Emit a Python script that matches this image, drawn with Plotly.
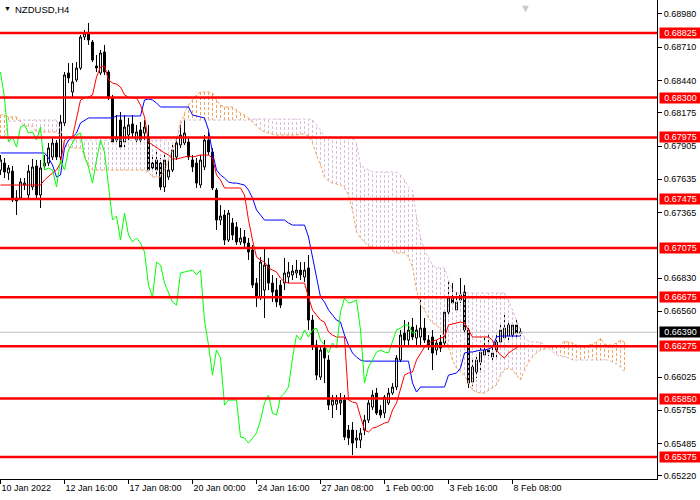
import plotly.graph_objects as go

symbol_title = "NZDUSD,H4"
tick_bars = [0, 16, 32, 48, 64, 80, 96, 112, 128]
tick_labels = ["10 Jan 2022", "12 Jan 16:00", "17 Jan 08:00", "20 Jan 00:00", "24 Jan 16:00",
               "27 Jan 08:00", "1 Feb 00:00", "3 Feb 16:00", "8 Feb 08:00"]
price_ticks = [0.68980, 0.68710, 0.68440, 0.68175, 0.67905, 0.67635, 0.67365, 0.66830,
               0.66560, 0.66025, 0.65755, 0.65485, 0.65220]
levels = [0.68825, 0.68300, 0.67975, 0.67475, 0.67075, 0.66675, 0.66275, 0.65850, 0.65375]
current_price = 0.66390

opens = [0.67710, 0.67767, 0.67686, 0.67702, 0.67482, 0.67482, 0.67588, 0.67507, 0.67572, 0.67743,
         0.67507, 0.67743, 0.67767, 0.67816, 0.67930, 0.67816, 0.68093, 0.68500, 0.68345, 0.68443,
         0.68540, 0.68793, 0.68825, 0.68752, 0.68557, 0.68500, 0.68671, 0.68508, 0.68296, 0.67954,
         0.68117, 0.67938, 0.67995, 0.68085, 0.67954, 0.68036, 0.68011, 0.67979, 0.67767, 0.67792,
         0.67767, 0.67572, 0.67653, 0.67710, 0.67816, 0.67914, 0.67930, 0.67938, 0.67792, 0.67767,
         0.67588, 0.67735, 0.67954, 0.67857, 0.67547, 0.67303, 0.67344, 0.67140, 0.67279, 0.67246,
         0.67124, 0.67165, 0.67116, 0.67059, 0.66790, 0.66676, 0.66733, 0.66937, 0.66790, 0.66733,
         0.66774, 0.66790, 0.66839, 0.66856, 0.66872, 0.66896, 0.66839, 0.66913, 0.66489, 0.66286,
         0.66025, 0.66261, 0.66164, 0.65797, 0.65805, 0.65814, 0.65838, 0.65594, 0.65594, 0.65512,
         0.65512, 0.65594, 0.65675, 0.65781, 0.65895, 0.65757, 0.65732, 0.65814, 0.65895, 0.65944,
         0.66164, 0.66383, 0.66326, 0.66432, 0.66343, 0.66351, 0.66424, 0.66326, 0.66351, 0.66245,
         0.66310, 0.66302, 0.66554, 0.66668, 0.66571, 0.66693, 0.66717, 0.66408, 0.65984, 0.66066,
         0.66147, 0.66204, 0.66245, 0.66188, 0.66245, 0.66310, 0.66343, 0.66359, 0.66367, 0.66449,
         0.66383]
highs = [0.67832, 0.67808, 0.67751, 0.67743, 0.67547, 0.67645, 0.67645, 0.67751, 0.67800, 0.67792,
         0.67792, 0.67832, 0.67930, 0.67971, 0.67954, 0.68158, 0.68508, 0.68581, 0.68581, 0.68589,
         0.68809, 0.68850, 0.68907, 0.68768, 0.68646, 0.68687, 0.68728, 0.68524, 0.68321, 0.68158,
         0.68182, 0.68158, 0.68134, 0.68158, 0.68077, 0.68101, 0.68117, 0.68077, 0.67832, 0.67873,
         0.67808, 0.67832, 0.67792, 0.67914, 0.67971, 0.68077, 0.68117, 0.67971, 0.67832, 0.67808,
         0.67832, 0.67995, 0.68020, 0.67889, 0.67564, 0.67425, 0.67385, 0.67385, 0.67320, 0.67287,
         0.67238, 0.67222, 0.67157, 0.67100, 0.66831, 0.67002, 0.67083, 0.66994, 0.66856, 0.66831,
         0.66815, 0.66994, 0.66961, 0.66937, 0.66978, 0.66961, 0.66961, 0.67018, 0.66530, 0.66326,
         0.66286, 0.66326, 0.66204, 0.65879, 0.65879, 0.65895, 0.65879, 0.65635, 0.65659, 0.65594,
         0.65610, 0.65716, 0.65838, 0.65919, 0.65936, 0.65797, 0.65879, 0.65936, 0.65976, 0.66204,
         0.66408, 0.66489, 0.66473, 0.66506, 0.66449, 0.66652, 0.66506, 0.66367, 0.66408, 0.66326,
         0.66367, 0.66571, 0.66815, 0.66790, 0.66717, 0.66831, 0.66774, 0.66449, 0.66164, 0.66204,
         0.66261, 0.66367, 0.66367, 0.66286, 0.66383, 0.66465, 0.66530, 0.66489, 0.66473, 0.66489,
         0.66424]
lows = [0.67670, 0.67645, 0.67629, 0.67450, 0.67344, 0.67466, 0.67547, 0.67482, 0.67547, 0.67482,
        0.67401, 0.67710, 0.67743, 0.67792, 0.67792, 0.67792, 0.68068, 0.68418, 0.68304, 0.68427,
        0.68524, 0.68768, 0.68728, 0.68589, 0.68508, 0.68484, 0.68484, 0.68280, 0.67914, 0.67914,
        0.67873, 0.67889, 0.67954, 0.67971, 0.67914, 0.67914, 0.67954, 0.67694, 0.67694, 0.67670,
        0.67547, 0.67531, 0.67629, 0.67694, 0.67792, 0.67889, 0.67914, 0.67792, 0.67694, 0.67564,
        0.67564, 0.67710, 0.67832, 0.67547, 0.67222, 0.67262, 0.67100, 0.67124, 0.67140, 0.67100,
        0.67100, 0.67075, 0.66978, 0.66750, 0.66595, 0.66652, 0.66506, 0.66733, 0.66636, 0.66595,
        0.66587, 0.66733, 0.66790, 0.66815, 0.66831, 0.66815, 0.66799, 0.66408, 0.66245, 0.66001,
        0.66001, 0.65976, 0.65757, 0.65692, 0.65757, 0.65716, 0.65512, 0.65472, 0.65390, 0.65447,
        0.65447, 0.65553, 0.65651, 0.65757, 0.65716, 0.65692, 0.65692, 0.65797, 0.65879, 0.65919,
        0.66147, 0.66286, 0.66286, 0.66326, 0.66286, 0.66286, 0.66302, 0.66245, 0.66082, 0.66204,
        0.66229, 0.66286, 0.66530, 0.66611, 0.66546, 0.66628, 0.66367, 0.65936, 0.65952, 0.66017,
        0.66066, 0.66180, 0.66196, 0.66164, 0.66180, 0.66286, 0.66326, 0.66310, 0.66326, 0.66343,
        0.66359]
closes = [0.67792, 0.67694, 0.67727, 0.67466, 0.67458, 0.67613, 0.67604, 0.67702, 0.67735, 0.67507,
          0.67727, 0.67767, 0.67889, 0.67930, 0.67816, 0.68101, 0.68484, 0.68459, 0.68427, 0.68540,
          0.68793, 0.68825, 0.68768, 0.68606, 0.68540, 0.68663, 0.68508, 0.68296, 0.67938, 0.67979,
          0.67897, 0.68060, 0.68077, 0.68011, 0.68020, 0.67954, 0.68060, 0.67710, 0.67727, 0.67710,
          0.67572, 0.67792, 0.67710, 0.67873, 0.67930, 0.67995, 0.68011, 0.67816, 0.67735, 0.67604,
          0.67792, 0.67954, 0.67857, 0.67564, 0.67303, 0.67336, 0.67140, 0.67360, 0.67181, 0.67124,
          0.67157, 0.67116, 0.67043, 0.66774, 0.66676, 0.66961, 0.66937, 0.66790, 0.66717, 0.66636,
          0.66611, 0.66872, 0.66880, 0.66888, 0.66896, 0.66856, 0.66896, 0.66489, 0.66286, 0.66041,
          0.66245, 0.66180, 0.65797, 0.65838, 0.65838, 0.65838, 0.65537, 0.65529, 0.65488, 0.65529,
          0.65569, 0.65675, 0.65814, 0.65879, 0.65732, 0.65716, 0.65862, 0.65895, 0.65944, 0.66180,
          0.66367, 0.66326, 0.66408, 0.66351, 0.66408, 0.66424, 0.66326, 0.66286, 0.66221, 0.66302,
          0.66261, 0.66554, 0.66668, 0.66628, 0.66636, 0.66652, 0.66408, 0.65976, 0.66107, 0.66164,
          0.66229, 0.66245, 0.66229, 0.66221, 0.66310, 0.66408, 0.66424, 0.66449, 0.66449, 0.66383,
          0.66390]

tenkan = [0.67588, 0.67588, 0.67588, 0.67588, 0.67588, 0.67588, 0.67588, 0.67588, 0.67588, 0.67588,
          0.67588, 0.67629, 0.67661, 0.67686, 0.67710, 0.67767, 0.67954, 0.67979, 0.67979, 0.68117,
          0.68280, 0.68296, 0.68304, 0.68321, 0.68467, 0.68549, 0.68557, 0.68443, 0.68418, 0.68410,
          0.68386, 0.68321, 0.68304, 0.68296, 0.68296, 0.68239, 0.68142, 0.67938, 0.67914, 0.67897,
          0.67873, 0.67849, 0.67832, 0.67800, 0.67800, 0.67808, 0.67816, 0.67824, 0.67816, 0.67824,
          0.67832, 0.67832, 0.67832, 0.67808, 0.67670, 0.67629, 0.67564, 0.67564, 0.67564, 0.67564,
          0.67564, 0.67507, 0.67303, 0.67140, 0.67002, 0.66978, 0.66961, 0.66913, 0.66896, 0.66880,
          0.66831, 0.66799, 0.66790, 0.66790, 0.66790, 0.66790, 0.66790, 0.66676, 0.66571, 0.66530,
          0.66489, 0.66473, 0.66392, 0.66367, 0.66351, 0.66351, 0.66351, 0.65838, 0.65822, 0.65814,
          0.65700, 0.65594, 0.65578, 0.65610, 0.65618, 0.65635, 0.65651, 0.65659, 0.65757, 0.65814,
          0.65919, 0.66041, 0.66058, 0.66066, 0.66164, 0.66221, 0.66269, 0.66302, 0.66318, 0.66326,
          0.66343, 0.66351, 0.66449, 0.66457, 0.66465, 0.66473, 0.66465, 0.66408, 0.66351, 0.66351,
          0.66351, 0.66351, 0.66351, 0.66326, 0.66245, 0.66204, 0.66180, 0.66221, 0.66245, 0.66269,
          0.66286]
kijun = [0.67849, 0.67849, 0.67849, 0.67849, 0.67849, 0.67849, 0.67849, 0.67849, 0.67849, 0.67849,
         0.67849, 0.67849, 0.67808, 0.67751, 0.67653, 0.67670, 0.67889, 0.67954, 0.67979, 0.68011,
         0.68093, 0.68117, 0.68134, 0.68134, 0.68134, 0.68134, 0.68134, 0.68134, 0.68134, 0.68150,
         0.68150, 0.68150, 0.68150, 0.68150, 0.68150, 0.68150, 0.68280, 0.68288, 0.68280, 0.68256,
         0.68223, 0.68223, 0.68223, 0.68223, 0.68223, 0.68223, 0.68223, 0.68223, 0.68158, 0.68150,
         0.68142, 0.68134, 0.68036, 0.67849, 0.67710, 0.67670, 0.67645, 0.67613, 0.67604, 0.67604,
         0.67596, 0.67588, 0.67547, 0.67482, 0.67385, 0.67344, 0.67303, 0.67303, 0.67303, 0.67303,
         0.67303, 0.67303, 0.67279, 0.67262, 0.67262, 0.67262, 0.67262, 0.67165, 0.67002, 0.66815,
         0.66676, 0.66636, 0.66571, 0.66530, 0.66489, 0.66473, 0.66367, 0.66286, 0.66221, 0.66188,
         0.66164, 0.66155, 0.66155, 0.66155, 0.66155, 0.66155, 0.66155, 0.66155, 0.66155, 0.66155,
         0.66155, 0.66155, 0.66155, 0.65976, 0.65903, 0.65944, 0.65944, 0.65944, 0.65944, 0.65944,
         0.65944, 0.65944, 0.66041, 0.66050, 0.66058, 0.66099, 0.66221, 0.66229, 0.66229, 0.66237,
         0.66245, 0.66245, 0.66253, 0.66269, 0.66351, 0.66359, 0.66359, 0.66359, 0.66359, 0.66359,
         0.66359]
senkou_a = [0.68158, 0.68158, 0.68142, 0.68142, 0.68142, 0.68101, 0.68068, 0.68068, 0.68068, 0.68020,
            0.68020, 0.68020, 0.68020, 0.68020, 0.68020, 0.67995, 0.67906, 0.67897, 0.67889, 0.67889,
            0.67889, 0.67832, 0.67751, 0.67710, 0.67710, 0.67710, 0.67710, 0.67710, 0.67710, 0.67710,
            0.67710, 0.67710, 0.67710, 0.67710, 0.67710, 0.67710, 0.67710, 0.67694, 0.67653, 0.67653,
            0.67653, 0.67710, 0.67792, 0.67873, 0.67954, 0.68077, 0.68174, 0.68239, 0.68280, 0.68321,
            0.68345, 0.68345, 0.68345, 0.68337, 0.68280, 0.68239, 0.68223, 0.68223, 0.68223, 0.68199,
            0.68174, 0.68158, 0.68134, 0.68101, 0.68068, 0.68036, 0.68020, 0.68011, 0.68003, 0.67995,
            0.67995, 0.67995, 0.67995, 0.67995, 0.67995, 0.68003, 0.68003, 0.67987, 0.67930, 0.67832,
            0.67751, 0.67653, 0.67621, 0.67604, 0.67596, 0.67588, 0.67564, 0.67507, 0.67385, 0.67206,
            0.67157, 0.67124, 0.67092, 0.67083, 0.67075, 0.67075, 0.67075, 0.67075, 0.67051, 0.67035,
            0.67035, 0.67035, 0.67002, 0.66921, 0.66733, 0.66611, 0.66571, 0.66506, 0.66465, 0.66449,
            0.66408, 0.66351, 0.66269, 0.66164, 0.66099, 0.66066, 0.66041, 0.65976, 0.65919, 0.65903,
            0.65895, 0.65895, 0.65919, 0.65936, 0.65960, 0.66041, 0.66082, 0.66099, 0.66082, 0.66041,
            0.66001, 0.66082, 0.66147, 0.66188, 0.66221, 0.66245, 0.66253, 0.66261, 0.66269, 0.66278,
            0.66286, 0.66318, 0.66310, 0.66302, 0.66286, 0.66269, 0.66278, 0.66286, 0.66294, 0.66310,
            0.66343, 0.66294, 0.66286, 0.66286, 0.66302, 0.66326, 0.66310]
senkou_b = [0.67979, 0.67979, 0.68109, 0.68109, 0.68109, 0.68117, 0.68117, 0.68117, 0.68117, 0.68117,
            0.68117, 0.68117, 0.68117, 0.68117, 0.68117, 0.68036, 0.67954, 0.67954, 0.67954, 0.67954,
            0.67954, 0.67954, 0.67954, 0.67954, 0.67954, 0.67954, 0.67954, 0.67954, 0.67954, 0.67954,
            0.67954, 0.67954, 0.67954, 0.67954, 0.67954, 0.67954, 0.67954, 0.67954, 0.67954, 0.67954,
            0.67954, 0.67954, 0.67954, 0.67954, 0.67954, 0.68117, 0.68117, 0.68117, 0.68117, 0.68117,
            0.68117, 0.68117, 0.68117, 0.68117, 0.68117, 0.68117, 0.68117, 0.68117, 0.68117, 0.68117,
            0.68117, 0.68117, 0.68117, 0.68125, 0.68125, 0.68125, 0.68125, 0.68125, 0.68125, 0.68125,
            0.68125, 0.68125, 0.68125, 0.68125, 0.68125, 0.68125, 0.68125, 0.68125, 0.68117, 0.68077,
            0.68036, 0.67979, 0.67979, 0.67979, 0.67979, 0.67979, 0.67979, 0.67979, 0.67979, 0.67930,
            0.67751, 0.67727, 0.67710, 0.67694, 0.67694, 0.67694, 0.67694, 0.67694, 0.67694, 0.67694,
            0.67670, 0.67629, 0.67572, 0.67547, 0.67328, 0.67165, 0.67059, 0.66994, 0.66937, 0.66913,
            0.66913, 0.66913, 0.66815, 0.66733, 0.66709, 0.66709, 0.66709, 0.66709, 0.66709, 0.66709,
            0.66709, 0.66709, 0.66709, 0.66709, 0.66709, 0.66709, 0.66709, 0.66652, 0.66571, 0.66489,
            0.66408, 0.66351, 0.66318, 0.66310, 0.66310, 0.66310, 0.66286, 0.66261, 0.66229, 0.66204,
            0.66196, 0.66188, 0.66180, 0.66164, 0.66164, 0.66164, 0.66164, 0.66164, 0.66164, 0.66164,
            0.66164, 0.66164, 0.66164, 0.66147, 0.66131, 0.66107, 0.66066]

# Chikou span = closes displayed 26 bars back
chikou = closes[26:]

FONT = "Liberation Sans"
SANDY = "#F4A460"
THISTLE = "#D8BFD8"

bars = list(range(len(closes)))
cloud_bars = list(range(len(senkou_a)))

hx_up, hy_up, hx_dn, hy_dn = [], [], [], []
for i, (a, b) in zip(cloud_bars, zip(senkou_a, senkou_b)):
    if a >= b:
        hx_up += [i, i, None]
        hy_up += [a, b, None]
    else:
        hx_dn += [i, i, None]
        hy_dn += [a, b, None]

fig = go.Figure()
fig.add_trace(go.Candlestick(
    x=bars, open=opens, high=highs, low=lows, close=closes,
    increasing=dict(line=dict(color="black", width=1), fillcolor="white"),
    decreasing=dict(line=dict(color="black", width=1), fillcolor="black"),
    whiskerwidth=0, hoverinfo="skip", showlegend=False))
fig.add_trace(go.Scatter(x=hx_up, y=hy_up, mode="lines", line=dict(color=SANDY, width=1, dash="3px,2px"),
                         hoverinfo="skip", showlegend=False))
fig.add_trace(go.Scatter(x=hx_dn, y=hy_dn, mode="lines", line=dict(color=THISTLE, width=1, dash="3px,2px"),
                         hoverinfo="skip", showlegend=False))
fig.add_trace(go.Scatter(x=cloud_bars, y=senkou_a, mode="lines", line=dict(color=SANDY, width=1, dash="3px,2px"),
                         hoverinfo="skip", showlegend=False))
fig.add_trace(go.Scatter(x=cloud_bars, y=senkou_b, mode="lines", line=dict(color=THISTLE, width=1, dash="3px,2px"),
                         hoverinfo="skip", showlegend=False))
fig.add_trace(go.Scatter(x=bars, y=kijun, mode="lines", line=dict(color="#0000FF", width=1),
                         hoverinfo="skip", showlegend=False))
fig.add_trace(go.Scatter(x=bars, y=tenkan, mode="lines", line=dict(color="#FF0000", width=1),
                         hoverinfo="skip", showlegend=False))
fig.add_trace(go.Scatter(x=bars[:len(chikou)], y=chikou, mode="lines", line=dict(color="#00FF00", width=1),
                         hoverinfo="skip", showlegend=False))

shapes = [dict(type="line", xref="paper", x0=0, x1=1, yref="y", y0=current_price, y1=current_price,
               line=dict(color="#C0C0C0", width=1), layer="below")]
for lv in levels:
    shapes.append(dict(type="line", xref="paper", x0=0, x1=1, yref="y", y0=lv, y1=lv,
                       line=dict(color="#FF0000", width=2.5), layer="above"))

annotations = []
for lv in levels:
    annotations.append(dict(x=1, xref="paper", xanchor="left", xshift=2, y=lv, yref="y",
                            text=f"{lv:.5f}", showarrow=False, bgcolor="#FF0000",
                            font=dict(family=FONT, size=9, color="white"),
                            width=41, height=10, borderpad=0))
annotations.append(dict(x=1, xref="paper", xanchor="left", xshift=2, y=current_price, yref="y",
                        text=f"{current_price:.5f}", showarrow=False, bgcolor="#000000",
                        font=dict(family=FONT, size=9, color="white"),
                        width=41, height=10, borderpad=0))
annotations.append(dict(x=0, xref="paper", xanchor="left", xshift=2, y=1, yref="paper", yanchor="top",
                        yshift=-3, text="▼", showarrow=False, font=dict(family=FONT, size=7, color="black")))
annotations.append(dict(x=0, xref="paper", xanchor="left", xshift=13, y=1, yref="paper", yanchor="top",
                        yshift=-2, text=symbol_title, showarrow=False,
                        font=dict(family=FONT, size=9.5, color="black")))
annotations.append(dict(x=0.80, xref="paper", xanchor="center", y=1, yref="paper", yanchor="top",
                        yshift=0, text="▼", showarrow=False, font=dict(family=FONT, size=11, color="#C8C8C8")))

fig.update_layout(
    width=700, height=500,
    margin=dict(l=0, r=43, t=0, b=21),
    paper_bgcolor="white", plot_bgcolor="white",
    showlegend=False,
    shapes=shapes, annotations=annotations,
    font=dict(family=FONT, size=9, color="black"),
    boxgap=0.3, boxgroupgap=0.3,
    xaxis=dict(range=[-0.125, 164.125], showgrid=False, zeroline=False, showline=True, linecolor="black",
               linewidth=1, ticks="outside", ticklen=4, tickcolor="black", tickvals=tick_bars,
               ticktext=tick_labels, ticklabelposition="outside right", rangeslider=dict(visible=False),
               tickfont=dict(family=FONT, size=9, color="black"), fixedrange=True),
    yaxis=dict(side="right", range=[0.651955, 0.690939], showgrid=False, zeroline=False, showline=True,
               linecolor="black", linewidth=1, ticks="outside", ticklen=4, tickcolor="black",
               tickvals=price_ticks, ticktext=[f"{p:.5f}" for p in price_ticks],
               tickfont=dict(family=FONT, size=9, color="black"), fixedrange=True),
)

fig.write_html("out.html", config={"displayModeBar": False},
               post_script="document.body.style.margin='0';")
